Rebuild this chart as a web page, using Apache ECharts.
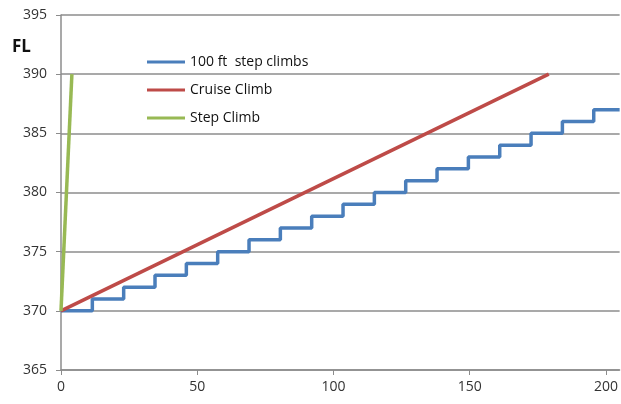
<!DOCTYPE html>
<html>
<head>
<meta charset="utf-8">
<script src="https://cdn.jsdelivr.net/npm/echarts@6/dist/echarts.min.js"></script>
<style>html,body{margin:0;padding:0;background:#fff}#c{width:621px;height:404px}</style>
</head>
<body>
<div id="c"></div>
<script>
// Data
var stepX = [0, 11.5, 23, 34.5, 46, 57.5, 69, 80.5, 92, 103.5, 115, 126.5, 138, 149.5, 161, 172.5, 184, 195.5, 205];
var stepFL = [370, 371, 372, 373, 374, 375, 376, 377, 378, 379, 380, 381, 382, 383, 384, 385, 386, 387, 387];
var cruiseX = [0, 179];
var cruiseFL = [370, 390];
var stepClimbX = [0, 4];
var stepClimbFL = [370, 390];
var seriesNames = ['100 ft  step climbs', 'Cruise Climb', 'Step Climb'];
var yTicks = [365, 370, 375, 380, 385, 390, 395];
var xTicks = [0, 50, 100, 150, 200];

function pairs(xs, ys) { return xs.map(function (x, i) { return [x, ys[i]]; }); }

var chart = echarts.init(document.getElementById('c'), null, { renderer: 'canvas' });
var font = 'Open Sans';
chart.setOption({
  animation: false,
  backgroundColor: '#ffffff',
  title: {
    text: 'FL', left: 7, top: 34,
    textStyle: { fontFamily: font, fontSize: 17, fontWeight: 'bold', color: '#111' }
  },
  legend: {
    orient: 'vertical', left: 147, top: 53, padding: 0,
    icon: 'rect', itemWidth: 38, itemHeight: 3, itemGap: 10,
    textStyle: { fontFamily: font, fontSize: 14, color: '#111', lineHeight: 18 },
    data: seriesNames
  },
  grid: { left: 61, right: 0, top: 15, bottom: 34, containLabel: false },
  xAxis: {
    type: 'value', min: 0, max: 205, interval: 50,
    axisLine: { show: true, lineStyle: { color: '#8c8c8c', width: 1.5 } },
    axisTick: { show: true, length: 5, lineStyle: { color: '#8c8c8c' } },
    splitLine: { show: false },
    axisLabel: {
      showMaxLabel: false, margin: 10, fontFamily: font, fontSize: 14, color: '#333',
      formatter: function (v) { return xTicks.indexOf(v) >= 0 ? String(v) : ''; }
    }
  },
  yAxis: {
    type: 'value', min: 365, max: 395, interval: 5,
    axisLine: { show: true, lineStyle: { color: '#8c8c8c', width: 1.5 } },
    axisTick: { show: true, length: 5, lineStyle: { color: '#8c8c8c' } },
    splitLine: { show: true, lineStyle: { color: '#8c8c8c', width: 1.5 } },
    axisLabel: {
      margin: 14, fontFamily: font, fontSize: 14, color: '#333',
      formatter: function (v) { return yTicks.indexOf(v) >= 0 ? String(v) : ''; }
    }
  },
  series: [
    {
      name: seriesNames[0], type: 'line', step: 'end', showSymbol: false,
      data: pairs(stepX, stepFL),
      lineStyle: { color: '#4a7ebb', width: 3.5 }, itemStyle: { color: '#4a7ebb' }
    },
    {
      name: seriesNames[1], type: 'line', showSymbol: false,
      data: pairs(cruiseX, cruiseFL),
      lineStyle: { color: '#be4b48', width: 3.5 }, itemStyle: { color: '#be4b48' }
    },
    {
      name: seriesNames[2], type: 'line', showSymbol: false,
      data: pairs(stepClimbX, stepClimbFL),
      lineStyle: { color: '#98b954', width: 3.5 }, itemStyle: { color: '#98b954' }
    }
  ]
});
</script>
</body>
</html>
